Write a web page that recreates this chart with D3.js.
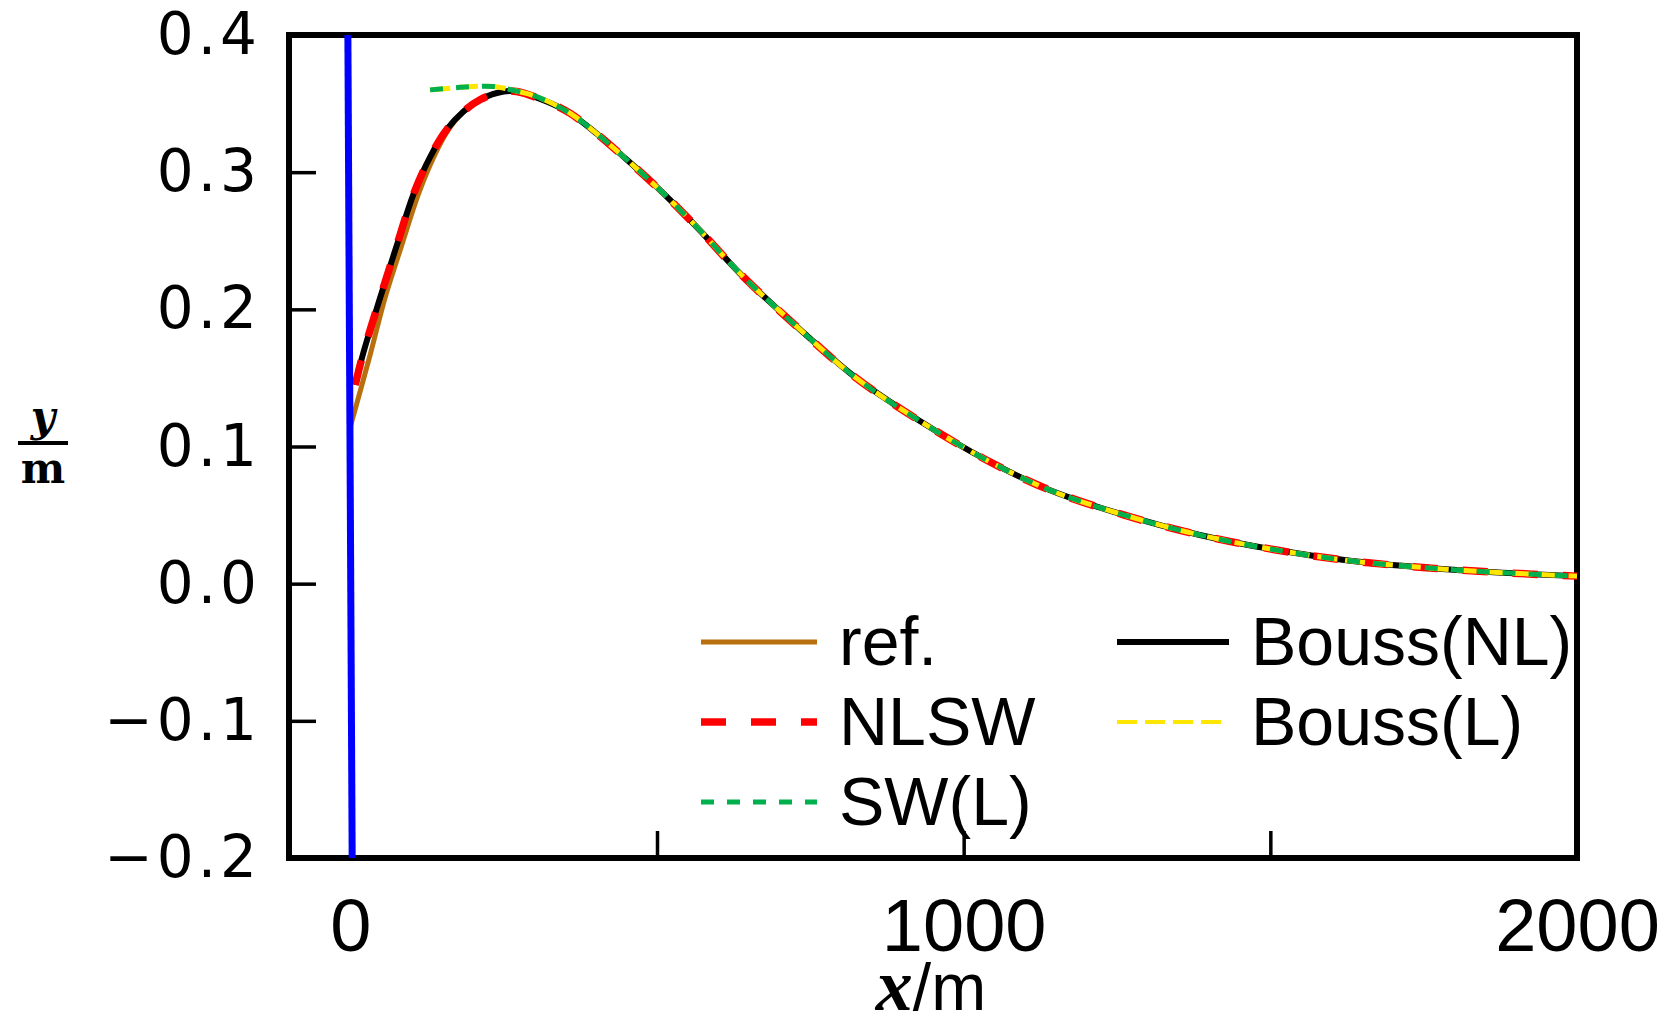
<!DOCTYPE html>
<html>
<head>
<meta charset="utf-8">
<script src="https://cdn.jsdelivr.net/npm/d3@7"></script>
<style>
  body { margin: 0; background: #fff; }
</style>
</head>
<body>
<div id="chart"></div>
<script>
// Values
const xMain = [8, 21, 49, 76, 103, 130, 157, 184, 212, 250, 271, 320, 358, 402, 456, 510, 568, 635, 725, 822, 926, 1037, 1140, 1262, 1385, 1510, 1630, 1754, 1879, 2000];
const yBoussNL = [0.145, 0.168, 0.209, 0.247, 0.284, 0.311, 0.331, 0.344, 0.353, 0.3588, 0.3588, 0.3515, 0.343, 0.328, 0.307, 0.2847, 0.2585, 0.2263, 0.1886, 0.1509, 0.1193, 0.0902, 0.0683, 0.050, 0.0355, 0.0245, 0.0167, 0.0116, 0.008, 0.0055];
const yNLSW    = [0.145, 0.168, 0.209, 0.247, 0.284, 0.311, 0.331, 0.344, 0.353, 0.3588, 0.3588, 0.3515, 0.343, 0.328, 0.307, 0.2847, 0.2585, 0.2263, 0.1886, 0.1509, 0.1193, 0.0902, 0.0683, 0.050, 0.0355, 0.0245, 0.0167, 0.0116, 0.008, 0.0055];

const xRef = [1, 33, 57, 84, 111, 136, 160, 184, 212, 250, 271, 320, 358, 402, 456, 510, 568, 635, 725, 822, 926, 1037, 1140, 1262, 1385, 1510, 1630, 1754, 1879, 2000];
const yRef = [0.116, 0.168, 0.209, 0.247, 0.284, 0.311, 0.331, 0.344, 0.353, 0.3588, 0.3588, 0.3515, 0.343, 0.328, 0.307, 0.2847, 0.2585, 0.2263, 0.1886, 0.1509, 0.1193, 0.0902, 0.0683, 0.050, 0.0355, 0.0245, 0.0167, 0.0116, 0.008, 0.0055];

const xLin = [130, 170, 200, 233, 258, 290, 320, 358, 402, 456, 510, 568, 635, 725, 822, 926, 1037, 1140, 1262, 1385, 1510, 1630, 1754, 1879, 2000];
const ySWL    = [0.360, 0.3615, 0.3625, 0.3625, 0.3605, 0.357, 0.352, 0.343, 0.328, 0.307, 0.2847, 0.2585, 0.2263, 0.1886, 0.1509, 0.1193, 0.0902, 0.0683, 0.050, 0.0355, 0.0245, 0.0167, 0.0116, 0.008, 0.0055];
const yBoussL = [0.360, 0.3615, 0.3625, 0.3625, 0.3605, 0.357, 0.352, 0.343, 0.328, 0.307, 0.2847, 0.2585, 0.2263, 0.1886, 0.1509, 0.1193, 0.0902, 0.0683, 0.050, 0.0355, 0.0245, 0.0167, 0.0116, 0.008, 0.0055];

// the wall (blue)
const xWall = [-4, 3];
const yWall = [0.4, -0.2];

const yTicks = [-0.2, -0.1, 0.0, 0.1, 0.2, 0.3, 0.4];
const xTicks = [0, 500, 1000, 1500, 2000];
const xTickLabels = [0, 1000, 2000];

const legendNames = ["ref.", "NLSW", "SW(L)", "Bouss(NL)", "Bouss(L)"];

// Set up the dimensions and margins
const margin = { top: 35, right: 102, bottom: 166, left: 289 },
      width = 1679 - margin.left - margin.right,
      height = 1024 - margin.top - margin.bottom;

const root = d3.select("#chart")
               .append("svg")
               .attr("width", 1679)
               .attr("height", 1024);

const svg = root.append("g")
                .attr("transform", `translate(${margin.left},${margin.top})`);

const x = d3.scaleLinear().domain([-100, 2000]).range([0, width]);
const y = d3.scaleLinear().domain([-0.2, 0.4]).range([height, 0]);

// Axes, ticks pointing inward
const yAxis = svg.append("g")
   .call(d3.axisLeft(y).tickValues(yTicks).tickSize(-27).tickPadding(28)
           .tickFormat(d => d3.format(".1f")(d).replace("-", "\u2212")));
yAxis.select(".domain").remove();
yAxis.selectAll("line").attr("stroke", "#000").attr("stroke-width", 3.5);
yAxis.selectAll("text")
     .style("font-family", "DejaVu Sans")
     .style("font-size", "58px")
     .style("letter-spacing", "4px")
     .attr("fill", "#000");

const xAxis = svg.append("g")
   .attr("transform", `translate(0,${height})`)
   .call(d3.axisBottom(x).tickValues(xTicks).tickSize(-27).tickPadding(40)
           .tickFormat(d => xTickLabels.includes(d) ? d : ""));
xAxis.select(".domain").remove();
xAxis.selectAll("line").attr("stroke", "#000").attr("stroke-width", 3.5);
xAxis.selectAll("text")
     .style("font-family", "Liberation Sans")
     .style("font-size", "74px")
     .attr("fill", "#000");

// Frame
svg.append("rect")
   .attr("x", 0).attr("y", 0)
   .attr("width", width).attr("height", height)
   .attr("fill", "none")
   .attr("stroke", "#000")
   .attr("stroke-width", 6);

// Lines
const line = d3.line().x(d => x(d[0])).y(d => y(d[1])).curve(d3.curveCatmullRom.alpha(0.5));
const zip = (xs, ys) => xs.map((v, i) => [v, ys[i]]);

const series = [
  { name: "ref.",      data: zip(xRef, yRef),      color: "#b8700e", width: 5,   dash: null },
  { name: "Bouss(NL)", data: zip(xMain, yBoussNL), color: "#000000", width: 6,   dash: null },
  { name: "NLSW",      data: zip(xMain, yNLSW),    color: "#ff0000", width: 7.5, dash: "25,25" },
  { name: "Bouss(L)",  data: zip(xLin, yBoussL),   color: "#ffe600", width: 5,   dash: "20,8" },
  { name: "SW(L)",     data: zip(xLin, ySWL),      color: "#00b04c", width: 5,   dash: "13,13" }
];

series.forEach(s => {
  svg.append("path")
     .datum(s.data)
     .attr("fill", "none")
     .attr("stroke", s.color)
     .attr("stroke-width", s.width)
     .attr("stroke-dasharray", s.dash)
     .attr("d", line);
});

// Wall
svg.append("path")
   .datum(zip(xWall, yWall))
   .attr("fill", "none")
   .attr("stroke", "#0000ff")
   .attr("stroke-width", 7)
   .attr("d", d3.line().x(d => x(d[0])).y(d => y(d[1])));

// Legend
const legendPos = {
  "ref.":      [701, 642],
  "NLSW":      [701, 722],
  "SW(L)":     [701, 802],
  "Bouss(NL)": [1117, 642],
  "Bouss(L)":  [1117, 722]
};
legendNames.forEach(name => {
  const s = series.find(d => d.name === name);
  const [lx, ly] = legendPos[name];
  const lineLen = name.startsWith("Bouss") ? 112 : 116;
  root.append("line")
      .attr("x1", lx).attr("x2", lx + lineLen)
      .attr("y1", ly).attr("y2", ly)
      .attr("stroke", s.color)
      .attr("stroke-width", name === "Bouss(L)" ? 4 : s.width)
      .attr("stroke-dasharray", s.dash);
  root.append("text")
      .attr("x", lx + lineLen + 22)
      .attr("y", ly + 23)
      .style("font-family", "Liberation Sans")
      .style("font-size", "68px")
      .text(name);
});

// Axis titles
const xt = root.append("text")
    .attr("x", 931).attr("y", 1010)
    .attr("text-anchor", "middle");
xt.append("tspan")
  .style("font-family", "Liberation Serif")
  .style("font-style", "italic").style("font-weight", "bold")
  .style("font-size", "74px")
  .text("x");
xt.append("tspan")
  .style("font-family", "Liberation Sans")
  .style("font-size", "66px")
  .text("/m");

root.append("text")
    .attr("x", 43).attr("y", 431)
    .attr("text-anchor", "middle")
    .style("font-family", "DejaVu Serif")
    .style("font-style", "italic").style("font-weight", "bold")
    .style("font-size", "42px")
    .text("y");
root.append("line")
    .attr("x1", 18).attr("x2", 68)
    .attr("y1", 443).attr("y2", 443)
    .attr("stroke", "#000").attr("stroke-width", 4);
root.append("text")
    .attr("x", 43).attr("y", 483)
    .attr("text-anchor", "middle")
    .style("font-family", "DejaVu Serif")
    .style("font-weight", "bold")
    .style("font-size", "42px")
    .text("m");
</script>
</body>
</html>
